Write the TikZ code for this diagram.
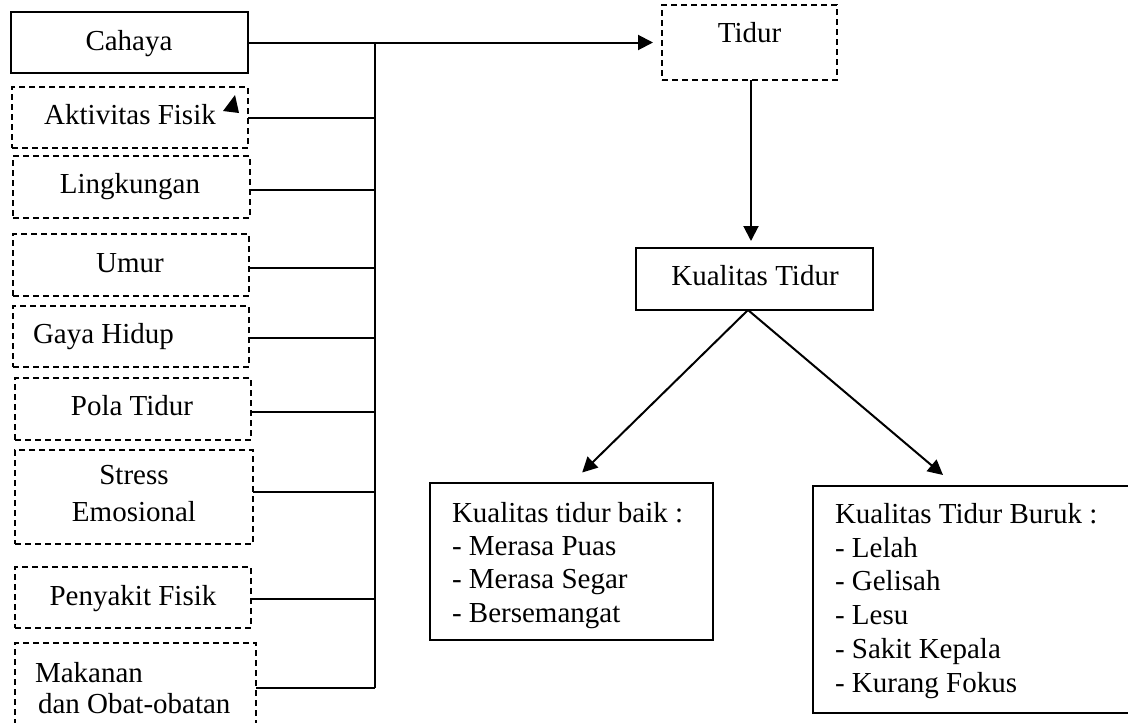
\documentclass[tikz,border=0pt]{standalone}
\usepackage{fontspec}
\setmainfont{Liberation Serif}
\usetikzlibrary{arrows.meta}
\begin{document}
\begin{tikzpicture}[x=1pt,y=-1pt,
  every node/.style={font=\fontsize{29}{34}\selectfont, inner sep=0pt, outer sep=0pt},
  sbox/.style={draw, line width=2pt, rectangle},
  dbox/.style={draw, line width=1.8pt, dash pattern=on 6pt off 4pt, rectangle},
  wire/.style={line width=2pt},
  arr/.style={line width=2pt, -{Triangle[length=15pt,width=15pt]}},
  txt/.style={anchor=base},
  ltxt/.style={anchor=base west}]
\path[use as bounding box, fill=white] (0,0) rectangle (1128,723);

% left boxes
\node[sbox, minimum width=237pt, minimum height=61pt] (cahaya) at (129.5,42.5) {};
\node[dbox, minimum width=236pt, minimum height=61pt] (akt) at (130,117.5) {};
\node[dbox, minimum width=237pt, minimum height=62pt] (ling) at (131.5,187) {};
\node[dbox, minimum width=236pt, minimum height=62pt] (umur) at (131,265) {};
\node[dbox, minimum width=236pt, minimum height=61pt] (gaya) at (131,336.5) {};
\node[dbox, minimum width=236pt, minimum height=62pt] (pola) at (133,409) {};
\node[dbox, minimum width=238pt, minimum height=94pt] (stress) at (134,497) {};
\node[dbox, minimum width=236pt, minimum height=61pt] (peny) at (133,597.5) {};
\node[dbox, minimum width=241pt, minimum height=102pt] (mak) at (135.5,694) {};

% right boxes
\node[dbox, minimum width=175pt, minimum height=75pt] (tidur) at (749.5,42.5) {};
\node[sbox, minimum width=237pt, minimum height=62pt] (kt) at (754.5,279) {};
\node[sbox, minimum width=283pt, minimum height=157pt] (baik) at (571.5,561.5) {};
\node[sbox, minimum width=327pt, minimum height=227pt] (buruk) at (976.5,599.5) {};

% texts
\node[txt] (tcahaya) at (129,50) {Cahaya};
\node[txt] (takt) at (130,124) {Aktivitas Fisik};
\node[txt] (tling) at (130,193) {Lingkungan};
\node[txt] (tumur) at (130,272) {Umur};
\node[ltxt] (tgaya) at (33,343) {Gaya Hidup};
\node[txt] (tpola) at (132,415) {Pola Tidur};
\node[txt] (tstress1) at (134,484) {Stress};
\node[txt] (tstress2) at (134,521) {Emosional};
\node[txt] (tpeny) at (133,605) {Penyakit Fisik};
\node[ltxt] (tmak1) at (35,682) {Makanan};
\node[ltxt] (tmak2) at (38,713) {dan Obat-obatan};
\node[txt] (ttidur) at (749.5,42) {Tidur};
\node[txt] (tkt) at (755,285) {Kualitas Tidur};

\node[ltxt] (b1) at (452,522) {Kualitas tidur baik :};
\node[ltxt] (b2) at (452,555) {- Merasa Puas};
\node[ltxt] (b3) at (452,588.5) {- Merasa Segar};
\node[ltxt] (b4) at (452,622) {- Bersemangat};

\node[ltxt] (r1) at (835,523) {Kualitas Tidur Buruk :};
\node[ltxt] (r2) at (835,557) {- Lelah};
\node[ltxt] (r3) at (835,590.5) {- Gelisah};
\node[ltxt] (r4) at (835,624.5) {- Lesu};
\node[ltxt] (r5) at (835,658) {- Sakit Kepala};
\node[ltxt] (r6) at (835,692) {- Kurang Fokus};

% stray arrowhead
\fill (235,95) -- (223,111) -- (239,113) -- cycle;

% spine and connectors
\coordinate (sp) at (375,43);
\coordinate (mkc) at ([yshift=6pt]mak.east);
\draw[wire] (sp) -- (mkc -| sp);
\draw[wire] (akt.east) -- (akt.east -| sp);
\draw[wire] ([yshift=-3pt]ling.east) -- ([yshift=-3pt]ling.east -| sp);
\draw[wire] ([yshift=-3pt]umur.east) -- ([yshift=-3pt]umur.east -| sp);
\draw[wire] ([yshift=-1.5pt]gaya.east) -- ([yshift=-1.5pt]gaya.east -| sp);
\draw[wire] ([yshift=-3pt]pola.east) -- ([yshift=-3pt]pola.east -| sp);
\draw[wire] ([yshift=5pt]stress.east) -- ([yshift=5pt]stress.east -| sp);
\draw[wire] ([yshift=-1.5pt]peny.east) -- ([yshift=-1.5pt]peny.east -| sp);
\draw[wire] (mkc) -- (mkc -| sp);

% arrows
\draw[arr, shorten >=9pt] (cahaya.east) -- (tidur.west);
\draw[arr, shorten >=7pt] ([xshift=1.5pt]tidur.south) -- ([xshift=1.5pt]tidur.south |- kt.north);
\coordinate (ktb) at ([xshift=-6.5pt]kt.south);
\draw[arr, shorten >=15pt] (ktb) -- (baik.north);
\coordinate (tipR) at (943,475);
\draw[arr] (ktb) -- (tipR);
\end{tikzpicture}
\end{document}
